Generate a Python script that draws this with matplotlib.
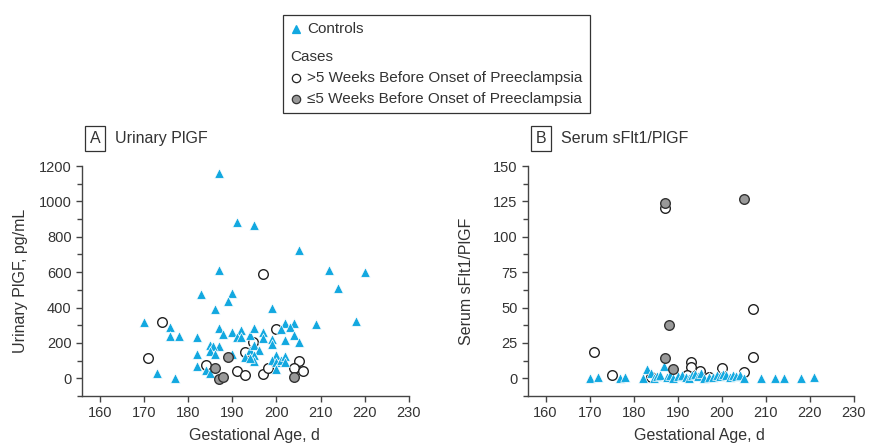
import matplotlib
matplotlib.use("Agg")
import matplotlib.pyplot as plt
from matplotlib.lines import Line2D
from matplotlib.patches import Rectangle
from matplotlib.ticker import MultipleLocator

plt.rcParams['font.family'] = ['Liberation Sans', 'DejaVu Sans']
TXT = '#333333'
BLUE = '#12a8e0'

# --- Panel A: urinary PlGF, pg/mL ---
a_ctrl_x = [187, 191, 195, 205, 187, 212, 220, 214, 183, 190, 189, 186, 199, 170, 209, 218,
            176, 176, 178, 182, 187, 188, 190, 192, 191, 192, 194, 195, 197, 197, 199, 199,
            202, 204, 203, 201, 204, 202, 205, 185, 187, 185.6, 185, 186, 182, 190, 194, 195,
            196, 193, 195, 195, 194, 200, 199, 200, 201, 202, 202, 200, 182, 184, 185, 173, 177]
a_ctrl_y = [1160, 885, 865, 725, 610, 615, 603, 510, 475, 483, 437, 390, 400, 320, 307, 325,
            289, 238, 238, 236, 285, 251, 262, 273, 234, 234, 247, 287, 259, 230, 221, 196,
            311, 310, 289, 276, 247, 217, 205, 191, 183, 180, 153, 138, 140, 140, 162, 191,
            158, 121, 130, 96, 113, 134, 106, 91, 102, 124, 92, 55, 70, 45, 32, 32, 2]
a_far_x = [197, 174, 171, 200, 194.8, 192.8, 184, 191, 193, 197, 198, 205, 204, 206]
a_far_y = [592, 317, 113, 276, 208, 148, 77, 39, 17, 26, 56, 97, 56, 40]
a_near_x = [189, 186, 187, 188, 204]
a_near_y = [123, 59, -5, 6, 8]

# --- Panel B: serum sFlt1/PlGF ---
b_ctrl_x = [170, 172, 176.8, 178, 182, 183, 184, 184.6, 185.3, 186, 186.9, 187.6, 188.3, 188.9,
            190, 191, 191.8, 192.5, 193.2, 193.9, 194.6, 195.3, 196, 197, 198, 198.8, 199.5,
            200.2, 201, 201.8, 202.5, 203.3, 204.2, 205, 209, 212, 214, 218, 221]
b_ctrl_y = [0.5, 0.8, 0, 1.2, 0, 6.3, 3.5, 0.5, 1.5, 2, 8.7, 1, 2.5, 0, 1.5, 2.5, 1, 0.5, 2,
            3, 1.5, 4, 0.5, 0.8, 1, 2.5, 1.5, 3, 2, 1, 2.5, 1.5, 2, 0, 0.5, 0.2, 0, 0, 1]
b_far_x = [187, 207, 207, 171, 175, 193, 193, 195, 197, 200, 205, 184, 192]
b_far_y = [120.4, 48.7, 15.2, 18.8, 2.3, 11.5, 8, 5.4, 1.2, 7.5, 4.2, 1, 2]
b_near_x = [187, 205, 188, 187, 189]
b_near_y = [124.2, 127, 38, 14, 6.3]

panels = [
    ('A', 'Urinary PlGF', 'Urinary PlGF, pg/mL', a_ctrl_x, a_ctrl_y, a_far_x, a_far_y,
     a_near_x, a_near_y, (-100, 1200), 200, 100),
    ('B', 'Serum sFlt1/PlGF', 'Serum sFlt1/PlGF', b_ctrl_x, b_ctrl_y, b_far_x, b_far_y,
     b_near_x, b_near_y, (-12.5, 150), 25, 12.5),
]

W, H = 870, 443
fig = plt.figure(figsize=(W / 100, H / 100), dpi=100)

lefts = [82, 528]
widths = [327, 326]
for (tag, title, ylab, cx, cy, fx, fy, nx, ny, ylim, major, minor), l, w in zip(panels, lefts, widths):
    ax = fig.add_axes([l / W, (H - 396) / H, w / W, 230 / H])
    ax.scatter(fx, fy, s=48, facecolor='white', edgecolor='#222222', linewidth=1.0, zorder=2)
    ax.scatter(cx, cy, s=48, marker='^', facecolor=BLUE, edgecolor='white', linewidth=0.5, zorder=3)
    ax.scatter(nx, ny, s=48, facecolor='#999999', edgecolor='#333333', linewidth=1.0, zorder=4)
    ax.set_xlim(156, 230)
    ax.set_ylim(*ylim)
    ax.set_xticks(range(160, 231, 10))
    ax.yaxis.set_major_locator(MultipleLocator(major))
    ax.yaxis.set_minor_locator(MultipleLocator(minor))
    ax.set_yticks([t for t in ax.get_yticks() if t >= 0 and t <= ylim[1]])
    ax.set_ylim(*ylim)
    for s in ['top', 'right']:
        ax.spines[s].set_visible(False)
    for s in ['left', 'bottom']:
        ax.spines[s].set_color('#444444')
        ax.spines[s].set_linewidth(1.0)
    ax.spines['left'].set_bounds(ylim[0], ylim[1])
    ax.tick_params(axis='both', which='major', length=4.5, width=1, color='#444444',
                   labelsize=10.5, labelcolor=TXT, pad=3)
    ax.tick_params(axis='y', which='minor', length=3.5, width=1, color='#444444')
    ax.set_xlabel('Gestational Age, d', fontsize=11.5, color=TXT)
    ax.xaxis.set_label_coords((160 - 156) / 74 + (70 / 74) / 2, -0.137)
    ax.set_ylabel(ylab, fontsize=11.5, color=TXT)
    ax.yaxis.set_label_coords(-0.165, 0.5)

    # panel tag and title
    fig.text((l + 13) / W, (H - 138.5) / H, tag, fontsize=11.5, color=TXT, ha='center', va='center',
             bbox=dict(boxstyle='square,pad=0.3', facecolor='white', edgecolor='#333333', linewidth=0.9))
    fig.text((l + 33) / W, (H - 138.5) / H, title, fontsize=11.5, color=TXT, ha='left', va='center')

# legend box
fig.add_artist(Rectangle((283 / W, (H - 113) / H), 307 / W, 98 / H, transform=fig.transFigure,
                         facecolor='white', edgecolor='#333333', linewidth=0.9))
rows = [(29, 'Controls'), (57, 'Cases'), (78, '>5 Weeks Before Onset of Preeclampsia'),
        (99, '≤5 Weeks Before Onset of Preeclampsia')]
styles = [dict(marker='^', color=BLUE, markeredgecolor=BLUE), None,
          dict(marker='o', color='white', markeredgecolor='#222222'),
          dict(marker='o', color='#999999', markeredgecolor='#333333')]
for (y, label), st in zip(rows, styles):
    if st is None:
        fig.text(290 / W, (H - y) / H, label, fontsize=11, color=TXT, ha='left', va='center')
    else:
        fig.add_artist(Line2D([296 / W], [(H - y) / H], transform=fig.transFigure, linestyle='none',
                              markersize=6, markeredgewidth=0.9, **st))
        fig.text(307 / W, (H - y) / H, label, fontsize=11, color=TXT, ha='left', va='center')

fig.savefig('out.png', dpi=100)
